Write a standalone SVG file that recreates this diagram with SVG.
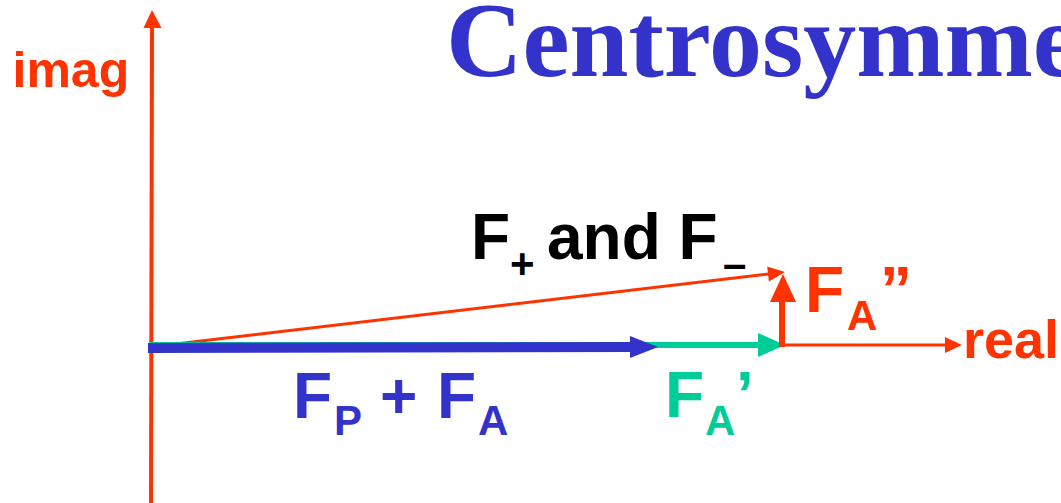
<svg xmlns="http://www.w3.org/2000/svg" width="1061" height="503" viewBox="0 0 1061 503">
<style>
.t{font-family:"Liberation Sans",Arial,sans-serif;font-weight:bold}
.red{fill:#FF3300}.blue{fill:#3333CC}.green{fill:#00CC99}.blk{fill:#000}
.big{font-size:64px}.sub{font-size:42px}
.title{font-family:"Liberation Serif","Times New Roman",serif;font-weight:bold;font-size:106px;fill:#3333CC}
</style>
<rect width="1061" height="503" fill="#fff"/>
<g id="connectors">
  <line x1="151" y1="503" x2="152" y2="26" stroke="#FF3300" stroke-width="4"/>
  <polygon class="red" points="143.5,28 152,10 161.5,28"/>
  <line x1="150" y1="345" x2="946" y2="345" stroke="#FF3300" stroke-width="3"/>
  <polygon class="red" points="945,337 962,345 945,353"/>
  <line x1="150" y1="347" x2="769" y2="274" stroke="#FF3300" stroke-width="3"/>
  <polygon class="red" points="768.9,281.5 785,272 767.2,266.5"/>
  <line x1="150" y1="345" x2="760" y2="345" stroke="#00CC99" stroke-width="6"/>
  <polygon class="green" points="758,333 785,345 758,357"/>
  <line x1="148" y1="348" x2="634" y2="347" stroke="#3333CC" stroke-width="10"/>
  <polygon class="blue" points="630,336 658,347 630,358"/>
  <line x1="782" y1="347" x2="782" y2="299" stroke="#FF3300" stroke-width="6"/>
  <polygon class="red" points="770,302 783,274 796,302"/>
</g>
<g id="title"><text class="title" x="446" y="76">Centrosymme</text></g>
<g id="imag"><text class="t red" x="12.5" y="87" font-size="50">imag</text></g>
<g id="real"><text class="t red" x="963" y="358" font-size="54">real</text></g>
<g id="fpm">
  <text class="t blk big" x="471" y="259">F</text>
  <text class="t blk sub" x="510" y="278">+</text>
  <text class="t blk big" x="547" y="259">and F</text>
  <text class="t blk sub" x="723" y="278">–</text>
</g>
<g id="fa2">
  <text class="t red big" x="805" y="312">F</text>
  <text class="t red sub" x="847" y="330">A</text>
  <text class="t red big" x="880" y="312">”</text>
</g>
<g id="fpfa">
  <text class="t blue big" x="293" y="418">F</text>
  <text class="t blue sub" x="334" y="435">P</text>
  <text class="t blue big" x="380" y="418">+</text>
  <text class="t blue big" x="437" y="418">F</text>
  <text class="t blue sub" x="478" y="435">A</text>
</g>
<g id="fa1">
  <text class="t green big" x="665" y="417">F</text>
  <text class="t green sub" x="705" y="435">A</text>
  <text class="t green big" x="736" y="417">’</text>
</g>
</svg>
